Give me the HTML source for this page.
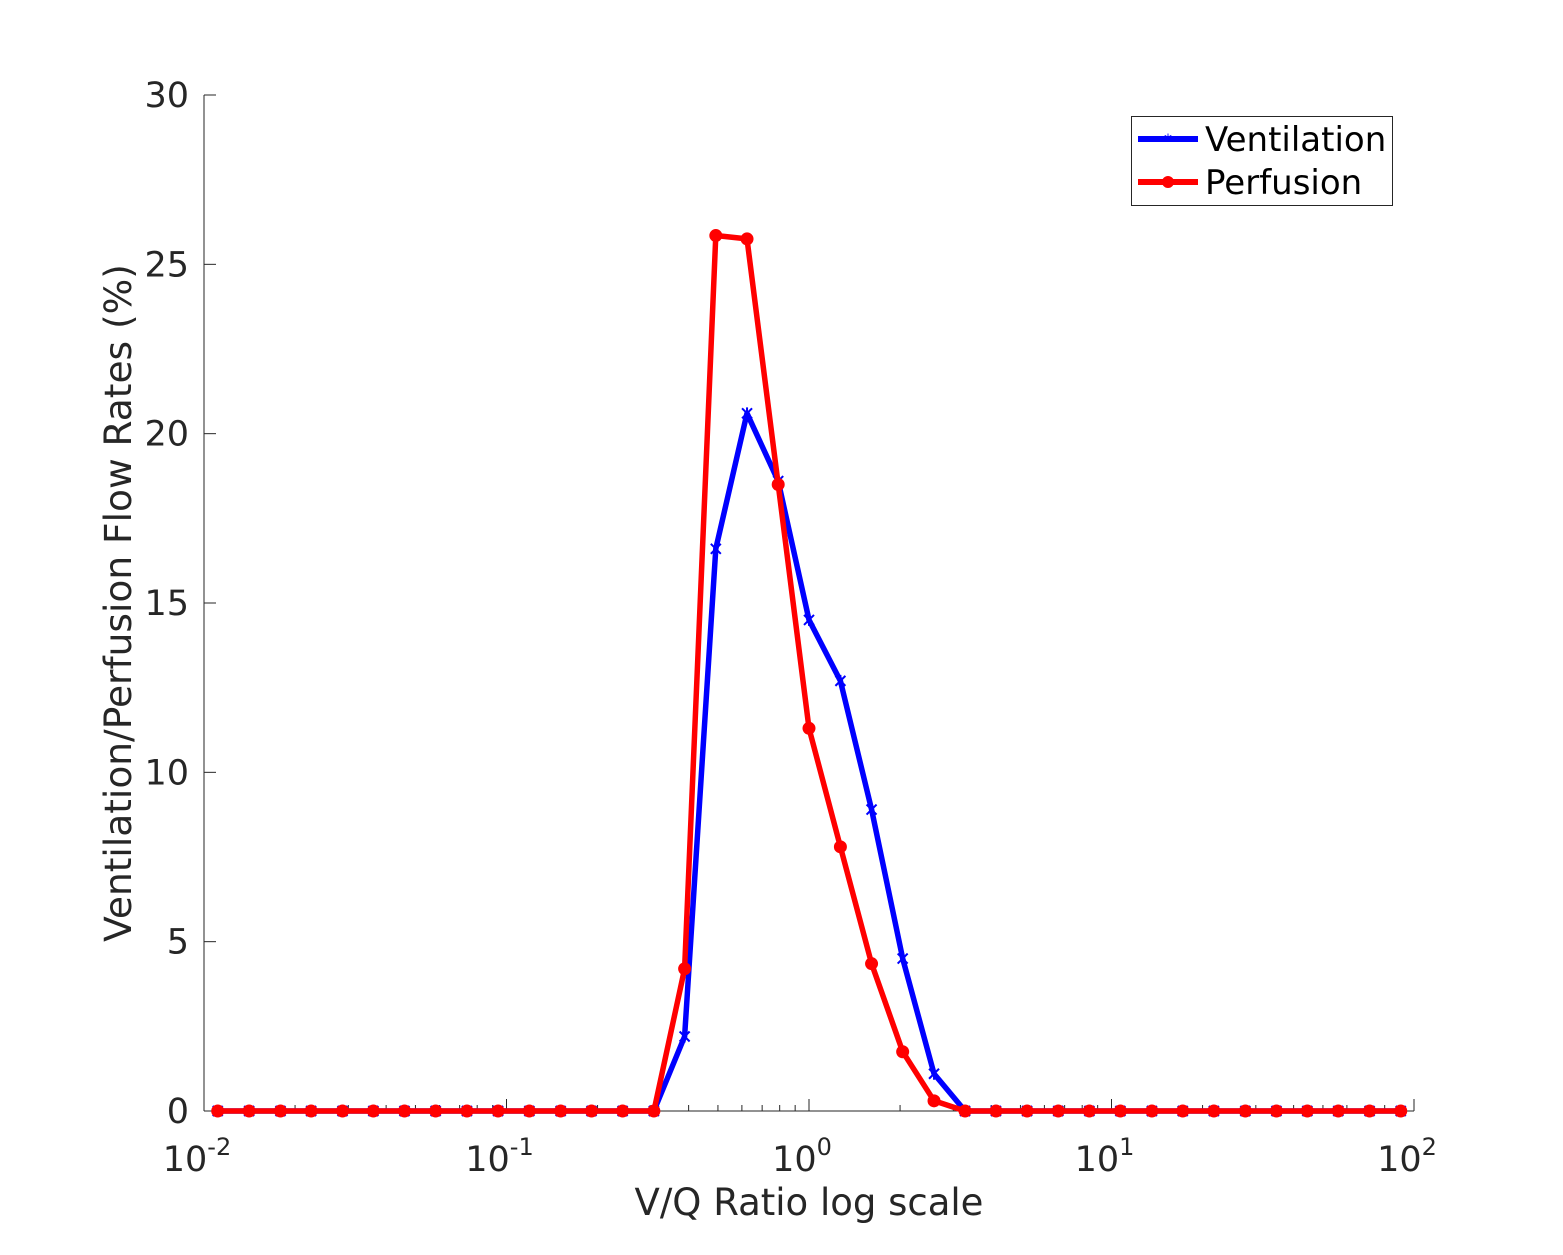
<!DOCTYPE html>
<html><head><meta charset="utf-8"><style>
body{margin:0;background:#fff}
text{font-family:"DejaVu Sans","Liberation Sans",sans-serif;fill:#262626}
</style></head><body>
<svg id="chart" width="1563" height="1250" xmlns="http://www.w3.org/2000/svg">
<rect width="1563" height="1250" fill="#fff"/>
<g id="axes"></g>
<g id="series"></g>
<text x="809" y="1215" font-size="37" text-anchor="middle">V/Q Ratio log scale</text>
<text transform="translate(131,603) rotate(-90)" font-size="37.5" text-anchor="middle">Ventilation/Perfusion Flow Rates (%)</text>
<g>
<rect x="1131.5" y="116.5" width="261" height="89" fill="#fff" stroke="#262626" stroke-width="1"/>
<line x1="1138" y1="139" x2="1198" y2="139" stroke="#0000ff" stroke-width="6"/>
<text x="1168" y="145" font-size="16" text-anchor="middle" style="fill:#0000ff">*</text>
<text x="1205" y="151" font-size="34" style="fill:#000">Ventilation</text>
<line x1="1138" y1="182" x2="1198" y2="182" stroke="#ff0000" stroke-width="6"/>
<circle cx="1168" cy="182" r="4.5" fill="#ff0000" stroke="#ff0000" stroke-width="3"/>
<text x="1205" y="194" font-size="34" style="fill:#000">Perfusion</text>
</g>
</svg>
<script>
const vqRatio=[0.0111,0.0141,0.0179,0.0226,0.0287,0.0363,0.0460,0.0583,0.0740,0.0938,0.119,0.151,0.191,0.242,0.307,0.388,0.492,0.624,0.791,1.00,1.27,1.61,2.04,2.59,3.28,4.15,5.26,6.67,8.45,10.7,13.6,17.2,21.8,27.7,35.1,44.4,56.2,71.3,90.4];
const ventilation=[0,0,0,0,0,0,0,0,0,0,0,0,0,0,0,2.2,16.6,20.6,18.6,14.5,12.7,8.9,4.5,1.1,0,0,0,0,0,0,0,0,0,0,0,0,0,0,0];
const perfusion=[0,0,0,0,0,0,0,0,0,0,0,0,0,0,0,4.2,25.85,25.75,18.5,11.3,7.8,4.35,1.75,0.3,0,0,0,0,0,0,0,0,0,0,0,0,0,0,0];
const yTicks=[0,5,10,15,20,25,30];
const xDecades=[-2,-1,0,1,2];
const NS="http://www.w3.org/2000/svg";
const X0=204,X1=1414,Y0=1111,Y1=95;
const xs=v=>X0+(Math.log10(v)+2)/4*(X1-X0);
const ys=v=>Y0-(v/30)*(Y0-Y1);
function mk(tag,attrs,parent){const e=document.createElementNS(NS,tag);for(const k in attrs)e.setAttribute(k,attrs[k]);parent.appendChild(e);return e;}
const ax=document.getElementById('axes');
let l=mk('line',{x1:X0,y1:Y0,x2:X1,y2:Y0,stroke:'#262626','stroke-width':1},ax);


l=mk('line',{x1:X0,y1:Y0,x2:X0,y2:Y1,stroke:'#262626','stroke-width':1},ax);


yTicks.forEach(t=>{
 const y=ys(t);
 mk('line',{x1:X0,y1:y,x2:X0+12,y2:y,stroke:'#262626'},ax);
 const tx=mk('text',{x:X0-15,y:y+12,'font-size':35,'text-anchor':'end'},ax);
 tx.textContent=t;
 
 
});
xDecades.forEach((d,i)=>{
 const x=xs(Math.pow(10,d));
 mk('line',{x1:x,y1:Y0,x2:x,y2:Y0-12,stroke:'#262626'},ax);
 if(i<xDecades.length-1){for(let m=2;m<10;m++){const xm=xs(m*Math.pow(10,d));mk('line',{x1:xm,y1:Y0,x2:xm,y2:Y0-6,stroke:'#262626'},ax);}}
 const tx=mk('text',{x:x-7,y:Y0+60,'font-size':35,'text-anchor':'middle'},ax);
 
 
 tx.textContent='10';
 const s=mk('tspan',{dy:-16,'font-size':24},tx);s.textContent=d;
});
const sg=document.getElementById('series');
function drawSeries(vals,color,name,marker){
 const pts=vals.map((v,i)=>xs(vqRatio[i]).toFixed(1)+','+ys(v).toFixed(1)).join(' ');
 const p=mk('polyline',{points:pts,fill:'none',stroke:color,'stroke-width':5.5,'stroke-linejoin':'round'},sg);
 
 
 vals.forEach((v,i)=>{
  const x=xs(vqRatio[i]),y=ys(v);
  let m;
  if(marker==='circle'){m=mk('circle',{cx:x,cy:y,r:5,fill:color,stroke:color,'stroke-width':3},sg);}
  else{m=mk('path',{d:`M${x-5},${y-5}L${x+5},${y+5}M${x+5},${y-5}L${x-5},${y+5}M${x},${y-6}L${x},${y+6}`,stroke:color,'stroke-width':2},sg);}
  
  
 });
}
drawSeries(ventilation,'#0000ff','ventilation','star');
drawSeries(perfusion,'#ff0000','perfusion','circle');
</script>
</body></html>
